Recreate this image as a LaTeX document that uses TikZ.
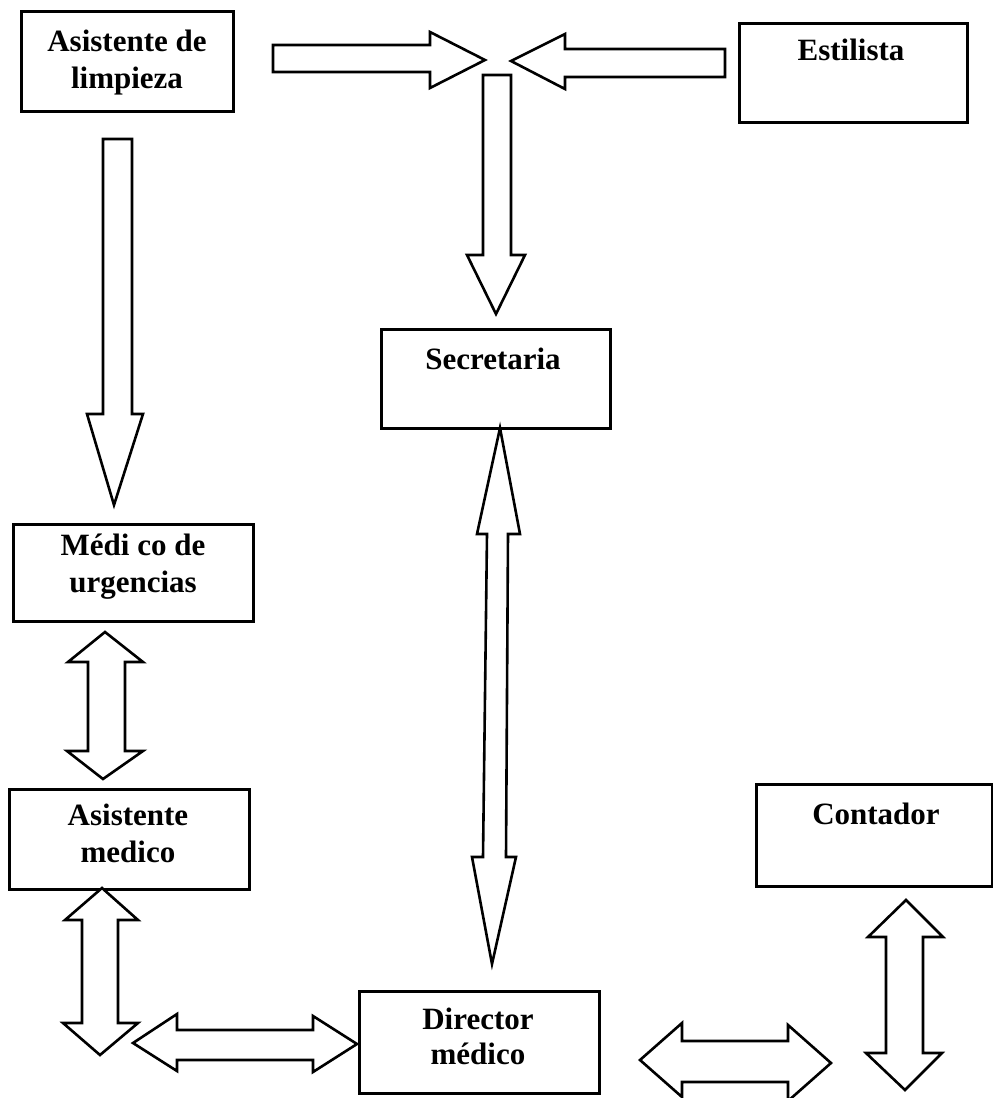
\documentclass[tikz,border=0pt]{standalone}
\usepackage{fontspec}
\setmainfont{Liberation Serif}
\begin{document}
\begin{tikzpicture}[x=1pt,y=-1pt,
  box/.style={draw, line width=2.6pt, inner sep=0pt, anchor=north west},
  blk/.style={draw, line width=2.6pt, line join=miter, fill=white},
  lbl/.style={font=\fontsize{31}{37}\selectfont\bfseries, inner sep=0pt, anchor=base}]
\useasboundingbox (0,0) rectangle (993,1098);
\clip (0,0) rectangle (993,1098);
\fill[white] (0,0) rectangle (993,1098);

% boxes
\node[box, minimum width=212pt, minimum height=100pt] (limp) at (20,10) {};
\node[box, minimum width=228pt, minimum height=99pt] (esti) at (738,22) {};
\node[box, minimum width=229pt, minimum height=99pt] (secr) at (380,328) {};
\node[box, minimum width=240pt, minimum height=97pt] (urge) at (12,523) {};
\node[box, minimum width=240pt, minimum height=100pt] (asme) at (8,788) {};
\node[box, minimum width=240pt, minimum height=102pt] (dire) at (358,990) {};
\node[box, minimum width=236pt, minimum height=102pt] (cont) at (755,783) {};

% labels
\node[lbl] (limp1) at (127,51) {Asistente de};
\node[lbl] (limp2) at (127,88) {limpieza};
\node[lbl] (estiT) at (851,60) {Estilista};
\node[lbl] (secrT) at (493,369) {Secretaria};
\node[lbl] (urge1) at (133,555) {Médi co de};
\node[lbl] (urge2) at (133,592) {urgencias};
\node[lbl] (asme1) at (128,825) {Asistente};
\node[lbl] (asme2) at (128,862) {medico};
\node[lbl] (dire1) at (478,1029) {Director};
\node[lbl] (dire2) at (478,1064) {médico};
\node[lbl] (contT) at (876,824) {Contador};

% block arrows
% limpieza -> centre
\draw[blk] (273,45) -- (430,45) -- (430,32) -- (485,60) -- (430,88) -- (430,72) -- (273,72) -- cycle;
% estilista -> centre
\draw[blk] (725,49) -- (565,49) -- (565,34) -- (511,61) -- (565,89) -- (565,77) -- (725,77) -- cycle;
% centre -> secretaria
\draw[blk] (483,75) -- (511,75) -- (511,255) -- (525,255) -- (496,314) -- (467,255) -- (483,255) -- cycle;
% limpieza -> urgencias
\draw[blk] (103,139) -- (132,139) -- (132,414) -- (143,414) -- (114,505) -- (87,414) -- (103,414) -- cycle;
% secretaria <-> director
\draw[blk] (500,428) -- (520,534) -- (508,534) -- (506,857) -- (516,857) -- (492,964) -- (472,857) -- (483,857) -- (487,534) -- (477,534) -- cycle;
% urgencias <-> asistente medico
\draw[blk] (105,632) -- (143,662) -- (125,662) -- (125,751) -- (143,751) -- (103,779) -- (67,751) -- (88,751) -- (88,662) -- (68,662) -- cycle;
% asistente medico <-> below
\draw[blk] (102,888) -- (138,920) -- (118,920) -- (118,1023) -- (138,1023) -- (100,1055) -- (63,1023) -- (82,1023) -- (82,920) -- (65,920) -- cycle;
% horizontal <-> director
\draw[blk] (133,1043) -- (177,1014) -- (177,1030) -- (313,1030) -- (313,1016) -- (357,1044) -- (313,1072) -- (313,1060) -- (177,1060) -- (177,1071) -- cycle;
% director <-> contador
\draw[blk] (640,1060) -- (682,1023) -- (682,1041) -- (788,1041) -- (788,1025) -- (831,1063) -- (788,1101) -- (788,1082) -- (682,1082) -- (682,1097) -- cycle;
% contador vertical <->
\draw[blk] (906,900) -- (943,937) -- (923,937) -- (923,1053) -- (942,1053) -- (905,1090) -- (866,1053) -- (886,1053) -- (886,937) -- (868,937) -- cycle;
\end{tikzpicture}
\end{document}
